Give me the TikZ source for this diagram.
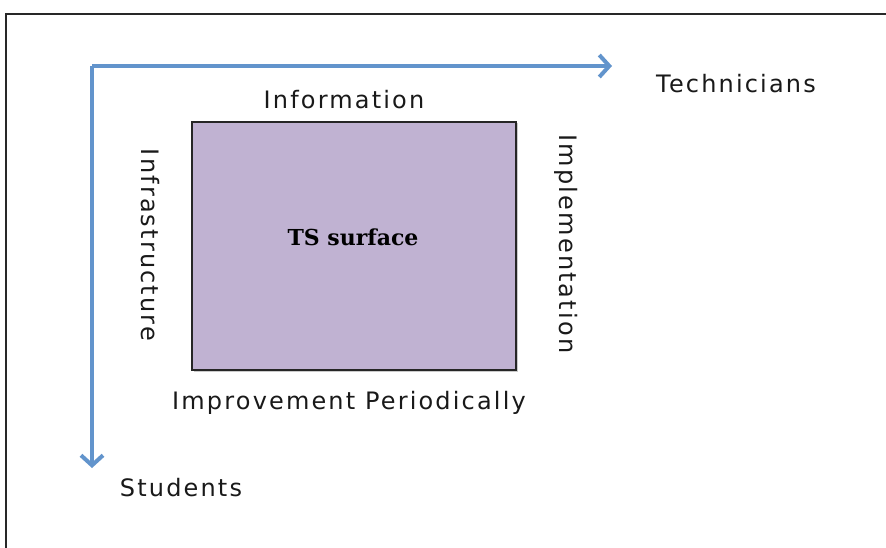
\documentclass[tikz,border=0pt]{standalone}
\usepackage{fontspec}
\usetikzlibrary{arrows.meta,shadows}
\newfontfamily\lblfont[LetterSpace=9]{DejaVu Sans}
\newfontfamily\boxfont{DejaVu Serif}
\definecolor{axisblue}{RGB}{98,148,204}
\definecolor{boxfill}{RGB}{192,178,210}
\definecolor{framegray}{RGB}{40,40,40}
\tikzset{
  lbl/.style={font=\lblfont\fontsize{24}{28}\selectfont, text=black!90, inner sep=0pt},
  axisarrow/.style={draw=axisblue, line width=4.5pt, -{Straight Barb[length=10pt,width=22pt,line width=4pt]}},
  tsbox/.style={draw=black!85, line width=1.8pt, fill=boxfill, minimum width=324pt, minimum height=248pt, inner sep=0pt,
    drop shadow={shadow xshift=1.5pt, shadow yshift=-1.5pt, opacity=0.35, fill=black!60}},
  frameline/.style={draw=framegray, line width=2pt}
}
\begin{document}
\begin{tikzpicture}[x=1pt,y=-1pt]
\useasboundingbox (0,0) rectangle (886,548);
\draw[frameline] (6,548) -- (6,14) -- (886,14);
\coordinate (corner) at (92,66);
\coordinate (xtip) at (612,66);
\coordinate (ytip) at (92,468);
\draw[axisarrow] (corner) -- (xtip);
\draw[axisarrow] (corner) -- (ytip);
\node[tsbox] (box) at (354,246) {};
\node[font=\boxfont\bfseries\fontsize{22}{26}\selectfont, inner sep=0pt] (ts) at (353,237) {TS surface};
\node[lbl] (tech) at (736,84) {Technicians};
\node[lbl] (stud) at (181,488) {Students};
\node[lbl] (info) at (344,100) {Information};
\node[lbl] (impr) at (349,403) {Improvement Periodically};
\node[lbl, rotate=-90] (infra) at (150,245) {Infrastructure};
\node[lbl, rotate=-90] (impl) at (566,244) {Implementation};
\end{tikzpicture}
\end{document}
